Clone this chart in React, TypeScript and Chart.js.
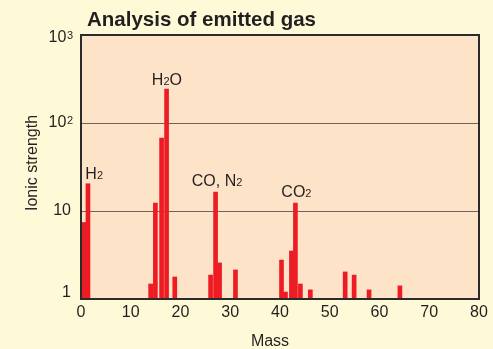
import React, { useEffect, useRef } from 'react';
import { Chart, registerables } from 'chart.js';

Chart.register(...registerables);

// Mass numbers (x) of each peak
const masses = [0.55, 1.4, 14.0, 14.95, 16.2, 17.2, 18.85, 26.05, 27.05, 27.85, 31.05, 40.3, 41.1, 42.3, 43.1, 44.1, 46.1, 53.1, 54.9, 57.9, 64.1];
// Ionic strength of each peak
const strengths = [7.4, 20.4, 1.48, 12.3, 67.6, 243, 1.78, 1.87, 16.4, 2.57, 2.14, 2.77, 1.2, 3.51, 12.3, 1.48, 1.27, 2.03, 1.87, 1.27, 1.41];

// Axis ticks
const xTicks = [0, 10, 20, 30, 40, 50, 60, 70, 80];
const yTickValues = [1, 10, 100, 1000];
const yTickBase = ['1', '10', '10', '10'];
const yTickExp = ['', '', '2', '3'];

// Peak labels: segments alternate normal / subscript
const peakLabelParts = [
  ['H', '2'],
  ['H', '2', 'O'],
  ['CO, N', '2'],
  ['CO', '2'],
];
const peakLabelMass = [2.65, 17.27, 27.35, 43.3];
const peakLabelStrength = [23.1, 270, 19.4, 14.4];

const title = 'Analysis of emitted gas';
const xTitle = 'Mass';
const yTitle = 'Ionic strength';

const FONT = '"Liberation Sans", Arial, Helvetica, sans-serif';
const OUTER_BG = '#fefad8';
const PLOT_BG = '#fde3c8';
const BAR = '#ed1c24';
const TEXT = '#231f20';
const FRAME = '#2b2b2b';
const GRID = '#6e625a';

const decorPlugin = {
  id: 'decor',
  beforeDraw(chart: any) {
    const { ctx, chartArea: a, width, height } = chart;
    ctx.save();
    ctx.fillStyle = OUTER_BG;
    ctx.fillRect(0, 0, width, height);
    ctx.fillStyle = PLOT_BG;
    ctx.fillRect(a.left, a.top, a.right - a.left, a.bottom - a.top);
    ctx.restore();
  },
  afterDraw(chart: any) {
    const { ctx, chartArea: a, scales } = chart;
    const xs = scales.x;
    const ys = scales.y;
    ctx.save();
    // frame
    ctx.strokeStyle = FRAME;
    ctx.lineWidth = 2;
    ctx.strokeRect(a.left, a.top, a.right - a.left, a.bottom - a.top);

    // title
    ctx.fillStyle = TEXT;
    ctx.font = `bold 20.5px ${FONT}`;
    ctx.textAlign = 'left';
    ctx.textBaseline = 'alphabetic';
    ctx.fillText(title, a.left + 6, 25.5);

    // x title
    ctx.font = `16px ${FONT}`;
    ctx.textAlign = 'center';
    ctx.fillText(xTitle, (a.left + a.right) / 2 - 10, 345.5);

    // y title
    ctx.save();
    ctx.translate(a.left - 48, (a.top + a.bottom) / 2 - 4);
    ctx.rotate(-Math.PI / 2);
    ctx.textAlign = 'center';
    ctx.textBaseline = 'middle';
    ctx.fillText(yTitle, 0, 0);
    ctx.restore();

    // y tick labels with superscripts
    yTickValues.forEach((v, i) => {
      let y = ys.getPixelForValue(v);
      if (v === ys.min) y -= 6;
      if (v === ys.max) y += 2.5;
      const right = a.left - 8;
      ctx.textBaseline = 'middle';
      ctx.textAlign = 'right';
      if (yTickExp[i]) {
        ctx.font = `11px ${FONT}`;
        const ew = ctx.measureText(yTickExp[i]).width;
        ctx.textBaseline = 'alphabetic';
        ctx.textAlign = 'left';
        ctx.fillText(yTickExp[i], right - ew, y + 1);
        ctx.font = `16px ${FONT}`;
        ctx.textAlign = 'right';
        ctx.textBaseline = 'middle';
        ctx.fillText(yTickBase[i], right - ew - 0.5, y);
      } else {
        ctx.font = `16px ${FONT}`;
        ctx.fillText(yTickBase[i], right - 2, y);
      }
    });

    // peak labels
    peakLabelParts.forEach((parts, i) => {
      const cx = xs.getPixelForValue(peakLabelMass[i]);
      const by = ys.getPixelForValue(peakLabelStrength[i]);
      const fonts = parts.map((_, j) => (j % 2 === 0 ? `16px ${FONT}` : `11px ${FONT}`));
      const widths = parts.map((p, j) => {
        ctx.font = fonts[j];
        return ctx.measureText(p).width;
      });
      const total = widths.reduce((s, w) => s + w, 0);
      let x = cx - total / 2;
      ctx.textAlign = 'left';
      ctx.textBaseline = 'alphabetic';
      ctx.fillStyle = TEXT;
      parts.forEach((p, j) => {
        ctx.font = fonts[j];
        ctx.fillText(p, x, by);
        x += widths[j];
      });
    });
    ctx.restore();
  },
};

export default function App() {
  const ref = useRef<HTMLCanvasElement | null>(null);

  useEffect(() => {
    if (!ref.current) return;
    const chart = new Chart(ref.current, {
      type: 'bar',
      data: {
        datasets: [
          {
            data: masses.map((m, i) => ({ x: m, y: strengths[i] })),
            backgroundColor: BAR,
            borderWidth: 0,
            barThickness: 4,
          },
        ],
      },
      options: {
        responsive: false,
        animation: false,
        layout: { padding: { top: 35, right: 14, left: 0, bottom: 0 } },
        plugins: {
          legend: { display: false },
          tooltip: { enabled: false },
          title: { display: false },
        },
        scales: {
          x: {
            type: 'linear',
            min: 0,
            max: 80,
            offset: false,
            afterBuildTicks: (s: any) => {
              s.ticks = xTicks.map((v) => ({ value: v }));
            },
            afterFit: (s: any) => {
              s.height = 50;
            },
            ticks: {
              font: { family: FONT, size: 16 },
              color: TEXT,
              padding: 4,
              maxRotation: 0,
              autoSkip: false,
            },
            grid: { display: false, drawTicks: false, offset: false },
            border: { display: false },
          },
          y: {
            type: 'logarithmic',
            min: 1,
            max: 1000,
            afterBuildTicks: (s: any) => {
              s.ticks = yTickValues.map((v) => ({ value: v }));
            },
            afterFit: (s: any) => {
              s.width = 81;
            },
            ticks: { display: false },
            grid: {
              drawTicks: false,
              lineWidth: 1,
              color: (c: any) =>
                c.tick && (c.tick.value === 10 || c.tick.value === 100) ? GRID : 'rgba(0,0,0,0)',
            },
            border: { display: false },
          },
        },
      },
      plugins: [decorPlugin],
    } as any);
    return () => chart.destroy();
  }, []);

  return (
    <div style={{ position: 'fixed', left: 0, top: 0, width: 493, height: 349 }}>
      <canvas ref={ref} width={493} height={349} style={{ display: 'block' }} />
    </div>
  );
}
